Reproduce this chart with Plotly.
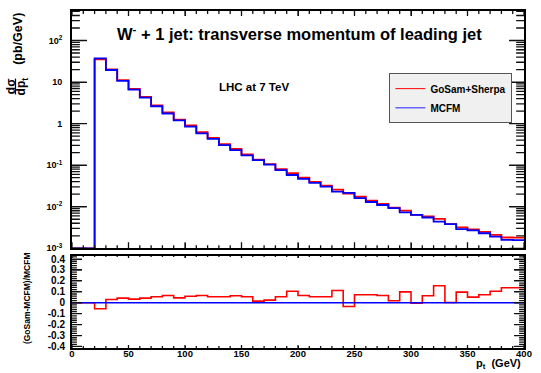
import math
import plotly.graph_objects as go

# ---------------- data ----------------
bin_edges = list(range(0, 410, 10))  # p_t bin edges (GeV)

mcfm = [0, 0,
        37.0, 19.5, 10.7, 6.6, 4.2, 2.62, 1.75, 1.2,
        0.85, 0.585, 0.43, 0.305, 0.23, 0.172, 0.133, 0.103, 0.076, 0.058,
        0.047, 0.0375, 0.0305, 0.0232, 0.0215, 0.0162, 0.013, 0.011, 0.0093, 0.0073,
        0.0064, 0.0055, 0.0044, 0.0038, 0.0029, 0.0027, 0.0023, 0.0019, 0.0016, 0.00158]

gosam = [0, 0,
         35.0, 20.1, 11.15, 6.82, 4.38, 2.76, 1.87, 1.25,
         0.90, 0.624, 0.454, 0.322, 0.245, 0.181, 0.135, 0.1055, 0.0802, 0.0641,
         0.0501, 0.0396, 0.0322, 0.0258, 0.0208, 0.0174, 0.01395, 0.01174, 0.00947, 0.00803,
         0.00637, 0.00585, 0.00508, 0.00381, 0.00318, 0.00284, 0.00247, 0.0021, 0.00182, 0.0018]

ratio_gosam = [0, 0,
               -0.055, 0.03, 0.042, 0.033, 0.042, 0.055, 0.067, 0.045,
               0.06, 0.067, 0.055, 0.055, 0.064, 0.055, 0.015, 0.024, 0.055, 0.106,
               0.067, 0.055, 0.055, 0.112, -0.034, 0.073, 0.073, 0.067, 0.018, 0.1,
               -0.004, 0.064, 0.155, 0.003, 0.097, 0.052, 0.073, 0.106, 0.137, 0.137]
ratio_mcfm = [0.0] * 40

x_ticks = [0, 50, 100, 150, 200, 250, 300, 350, 400]
x_minor = [v for v in range(0, 401, 10) if v % 50]
log_ticks = [1e-3, 1e-2, 1e-1, 1, 10, 100]
log_ticktext = ["10<sup>-3</sup>", "10<sup>-2</sup>", "10<sup>-1</sup>", "1", "10", "10<sup>2</sup>"]
log_minor = [m * 10 ** e for e in range(-3, 3) for m in range(2, 10) if m * 10 ** e < 10 ** 2.71]
ratio_ticks = [-0.4, -0.3, -0.2, -0.1, 0, 0.1, 0.2, 0.3, 0.4]
ratio_ticktext = ["-0.4", "-0.3", "-0.2", "-0.1", "0", "0.1", "0.2", "0.3", "0.4"]
ratio_minor = [round(-0.40 + 0.02 * i, 2) for i in range(0, 42) if (i % 5) != 0]

# ---------------- layout helpers ----------------
W, H = 541, 373
ML, MR, MT, MB = 72, 9, 9, 25
PW, PH = W - ML - MR, H - MT - MB
YMIN = 1e-3
Y_LOG_RANGE = [-3, 2.71]
R_RANGE = [-0.414, 0.432]
X_RANGE = [0, 400]


def px(xp):
    return (xp - ML) / PW


def py(yp):
    return (H - MB - yp) / PH


def step(vals, floor=None):
    v = [max(a, floor) if floor is not None else a for a in vals]
    return bin_edges, v + [v[-1]]


FONT = "Liberation Sans, Arial, sans-serif"
RED = "#ff0000"
BLUE = "#0000ff"
TICKC = "#111111"

TOP_PX = (9, 247.7)
BOT_PX = (255, 347.7)
top_dom = [py(TOP_PX[1]), 1.0]
bot_dom = [0.0, py(BOT_PX[0])]
top_h = TOP_PX[1] - TOP_PX[0]
bot_h = BOT_PX[1] - BOT_PX[0]

fig = go.Figure()

# ---- histograms ----
x, y = step(gosam, YMIN)
fig.add_trace(go.Scatter(x=x, y=y, mode="lines", line=dict(color=RED, width=1.8, shape="hv"),
                         showlegend=False, xaxis="x", yaxis="y"))
x, y = step(mcfm, YMIN)
fig.add_trace(go.Scatter(x=x, y=y, mode="lines", line=dict(color=BLUE, width=1.8, shape="hv"),
                         showlegend=False, xaxis="x", yaxis="y"))
x, y = step(ratio_gosam)
fig.add_trace(go.Scatter(x=x, y=y, mode="lines", line=dict(color=RED, width=1.6, shape="hv"),
                         showlegend=False, xaxis="x2", yaxis="y2"))
x, y = step(ratio_mcfm)
fig.add_trace(go.Scatter(x=x, y=y, mode="lines", line=dict(color=BLUE, width=1.6, shape="hv"),
                         showlegend=False, xaxis="x2", yaxis="y2"))

# ---- tick marks (ROOT style: inside the frame, on all four sides) ----
xu = (X_RANGE[1] - X_RANGE[0]) / PW            # data units per pixel along x
lu = (Y_LOG_RANGE[1] - Y_LOG_RANGE[0]) / top_h  # decades per pixel, top panel
ru = (R_RANGE[1] - R_RANGE[0]) / bot_h          # ratio units per pixel, bottom panel


def y_tick_segments(vals, length):
    xs, ys = [], []
    for v in vals:
        xs += [X_RANGE[0], X_RANGE[0] + length * xu, None, X_RANGE[1], X_RANGE[1] - length * xu, None]
        ys += [v, v, None, v, v, None]
    return xs, ys


def x_tick_segments_log(vals, len_b, len_t):
    xs, ys = [], []
    lo, hi = Y_LOG_RANGE
    for v in vals:
        xs += [v, v, None, v, v, None]
        ys += [10 ** lo, 10 ** (lo + len_b * lu), None, 10 ** hi, 10 ** (hi - len_t * lu), None]
    return xs, ys


def x_tick_segments_lin(vals, len_b, len_t):
    xs, ys = [], []
    lo, hi = R_RANGE
    for v in vals:
        xs += [v, v, None, v, v, None]
        ys += [lo, lo + len_b * ru, None, hi, hi - len_t * ru, None]
    return xs, ys


tick_sets = [
    (y_tick_segments(log_ticks, 15), "x", "y"),
    (y_tick_segments(log_minor, 8), "x", "y"),
    (x_tick_segments_log(x_ticks, 6, 5), "x", "y"),
    (x_tick_segments_log(x_minor, 3, 3), "x", "y"),
    (y_tick_segments(ratio_ticks, 10), "x2", "y2"),
    (y_tick_segments(ratio_minor, 5), "x2", "y2"),
    (x_tick_segments_lin(x_ticks, 3, 2.5), "x2", "y2"),
    (x_tick_segments_lin(x_minor, 2, 1.5), "x2", "y2"),
]
for (xs, ys), xa, ya in tick_sets:
    fig.add_trace(go.Scatter(x=xs, y=ys, mode="lines", line=dict(color=TICKC, width=1.3),
                             showlegend=False, hoverinfo="skip", connectgaps=False,
                             cliponaxis=False, xaxis=xa, yaxis=ya))

# legend entries (thin sample lines, as in the reference legend)
fig.add_trace(go.Scatter(x=[None], y=[None], mode="lines", line=dict(color=RED, width=1),
                         name="GoSam+Sherpa", xaxis="x", yaxis="y"))
fig.add_trace(go.Scatter(x=[None], y=[None], mode="lines", line=dict(color="#6666ff", width=1.5),
                         name="MCFM", xaxis="x", yaxis="y"))

frame = dict(showline=True, linecolor="black", linewidth=2, mirror="ticks",
             ticks="inside", tickcolor=TICKC, tickwidth=1.3,
             showgrid=False, zeroline=False)

fig.update_layout(
    width=W, height=H,
    margin=dict(l=ML, r=MR, t=MT, b=MB),
    paper_bgcolor="white", plot_bgcolor="white",
    font=dict(family=FONT, color="black"),
    xaxis=dict(domain=[0, 1], anchor="y", range=X_RANGE, showticklabels=False,
               tickmode="array", tickvals=x_ticks, ticklen=5, **frame),
    yaxis=dict(domain=top_dom, anchor="x", type="log", range=Y_LOG_RANGE,
               tickmode="array", tickvals=log_ticks, ticktext=log_ticktext, ticklen=15,
               tickfont=dict(size=9, weight="bold"), ticklabelstandoff=6, **frame),
    xaxis2=dict(domain=[0, 1], anchor="y2", range=X_RANGE,
                tickmode="array", tickvals=x_ticks, ticktext=[str(v) for v in x_ticks], ticklen=2.5,
                tickfont=dict(size=9.5, weight="bold"), ticklabelstandoff=-4, **frame),
    yaxis2=dict(domain=bot_dom, anchor="x2", range=R_RANGE,
                tickmode="array", tickvals=ratio_ticks, ticktext=ratio_ticktext, ticklen=10,
                tickfont=dict(size=10, weight="bold"), ticklabelstandoff=3, **frame),
    legend=dict(x=px(395), y=py(71.5), xanchor="left", yanchor="top",
                bgcolor="#f0f0f0", bordercolor="#555555", borderwidth=1,
                font=dict(size=10, weight="bold", family=FONT),
                tracegroupgap=0, itemwidth=30),
    showlegend=True,
)

annots = [
    dict(text="W<sup>-</sup> + 1 jet: transverse momentum of leading jet",
         x=px(304), y=py(31), font=dict(size=16.5, weight="bold")),
    dict(text="LHC at 7 TeV", x=px(257), y=py(85), font=dict(size=11.5, weight="bold")),
    dict(text="p<sub>t</sub>  (GeV)", x=px(531), y=py(373), xanchor="right", yanchor="bottom",
         font=dict(size=11, weight="bold")),
    dict(text="(pb/GeV)", x=px(17), y=py(37), textangle=-90, font=dict(size=12.5, weight="bold")),
    dict(text="dσ", x=px(9.5), y=py(85), textangle=-90, font=dict(size=12, weight="bold")),
    dict(text="dp<sub>t</sub>", x=px(21), y=py(85), textangle=-90, font=dict(size=12, weight="bold")),
    dict(text="(GoSam-MCFM)/MCFM", x=px(26.5), y=py(297.5), textangle=-90,
         font=dict(size=8.5, weight="bold")),
]
for a in annots:
    a.setdefault("xanchor", "center")
    a.setdefault("yanchor", "middle")
    fig.add_annotation(xref="paper", yref="paper", showarrow=False, **a)

fig.add_shape(type="line", xref="paper", yref="paper", x0=px(14.5), x1=px(14.5),
              y0=py(77), y1=py(93), line=dict(color="black", width=1.2))

fig.write_html("out.html")
